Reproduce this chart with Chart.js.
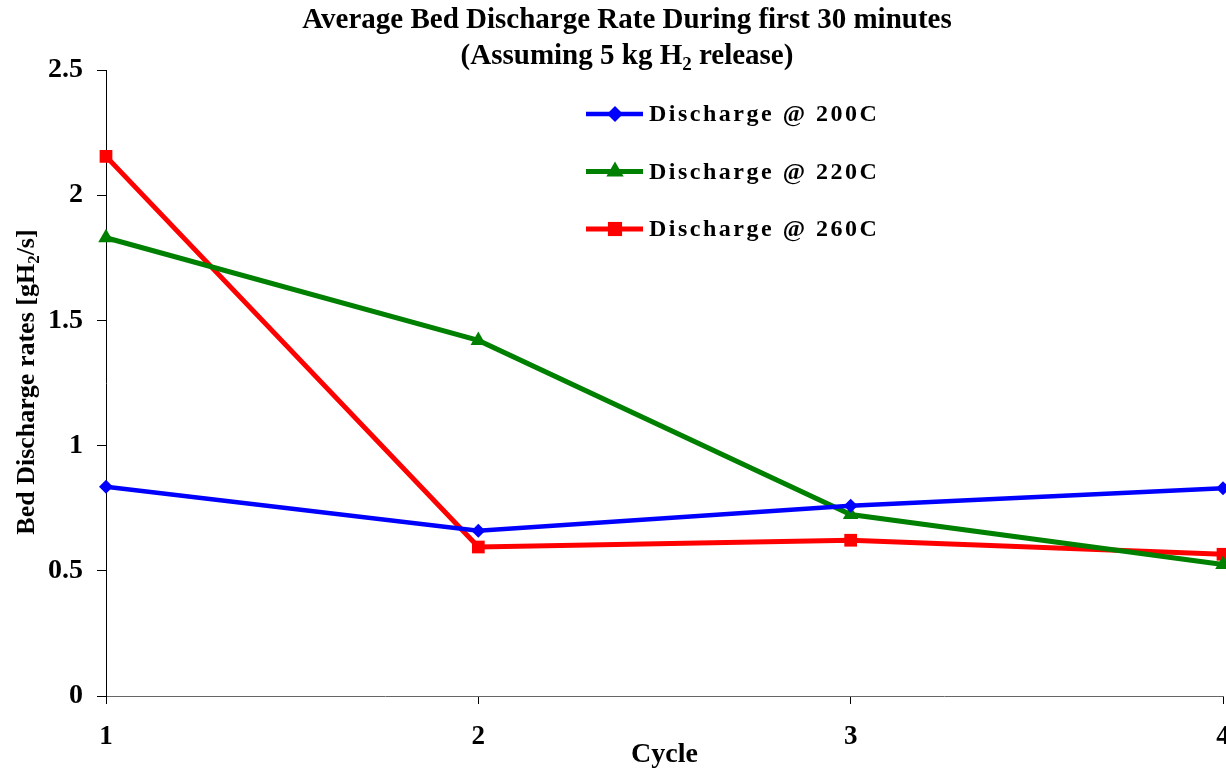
<!DOCTYPE html>
<html>
<head>
<meta charset="utf-8">
<script src="https://cdn.jsdelivr.net/npm/chart.js@4"></script>
<style>
  html, body { margin: 0; padding: 0; background: #fff; overflow: hidden; }
  #wrap { width: 1254px; height: 772px; }
</style>
</head>
<body>
<div id="wrap"><canvas id="myChart" width="1254" height="772"></canvas></div>
<script>
'use strict';

// chart data
const cycles = ['1', '2', '3', '4'];
const seriesNames = ['Discharge @ 200C', 'Discharge @ 220C', 'Discharge @ 260C'];
const discharge200 = [0.836, 0.66, 0.76, 0.83];
const discharge220 = [1.83, 1.42, 0.725, 0.525];
const discharge260 = [2.155, 0.595, 0.622, 0.566];
const yTickLabels = ['0', '0.5', '1', '1.5', '2', '2.5'];

const SERIF = '"Liberation Serif", "Times New Roman", serif';

// draws text pieces, some as subscript, centred on x
function drawRich(ctx, parts, x, y, size) {
  let total = 0;
  parts.forEach(p => {
    ctx.font = 'bold ' + (p.sub ? Math.round(size * 0.65) : size) + 'px ' + SERIF;
    p.w = ctx.measureText(p.t).width;
    total += p.w;
  });
  let cx = x - total / 2;
  ctx.textAlign = 'left';
  ctx.textBaseline = 'middle';
  parts.forEach(p => {
    ctx.font = 'bold ' + (p.sub ? Math.round(size * 0.65) : size) + 'px ' + SERIF;
    ctx.fillText(p.t, cx, p.sub ? y + size * 0.28 : y);
    cx += p.w;
  });
}

const decorations = {
  id: 'decorations',
  afterDraw(chart) {
    const ctx = chart.ctx;
    const area = chart.chartArea;
    ctx.save();
    ctx.fillStyle = '#000';

    // title, two lines
    const cx = chart.width / 2;
    drawRich(ctx, [{t: 'Average Bed Discharge Rate During first 30 minutes'}], cx, 21, 29);
    drawRich(ctx, [{t: '(Assuming 5 kg H'}, {t: '2', sub: true}, {t: ' release)'}], cx, 57, 29);

    // y axis title, rotated
    ctx.save();
    ctx.translate(27, (area.top + area.bottom) / 2 - 1);
    ctx.rotate(-Math.PI / 2);
    drawRich(ctx, [{t: 'Bed Discharge rates [gH'}, {t: '2', sub: true}, {t: '/s]'}], 0, 0, 26);
    ctx.restore();

    // legend inside the plot
    const lx = area.left + 480;
    chart.data.datasets.forEach((ds, i) => {
      const y = area.top + 44 + i * 57.5;
      ctx.strokeStyle = ds.borderColor;
      ctx.lineWidth = ds.borderWidth;
      ctx.beginPath();
      ctx.moveTo(lx, y);
      ctx.lineTo(lx + 57, y);
      ctx.stroke();
      ctx.fillStyle = ds.borderColor;
      Chart.helpers.drawPoint(ctx, {
        pointStyle: ds.pointStyle, radius: ds.pointRadius + 1, borderWidth: 0, rotation: 0
      }, lx + 29, y);
      ctx.fillStyle = '#000';
      ctx.font = 'bold 24px ' + SERIF;
      ctx.letterSpacing = '2.5px';
      ctx.textAlign = 'left';
      ctx.textBaseline = 'middle';
      ctx.fillText(ds.label, lx + 63, y + 1);
      ctx.letterSpacing = '0px';
    });
    ctx.restore();
  }
};

const ctx = document.getElementById('myChart').getContext('2d');
const chart = new Chart(ctx, {
  type: 'line',
  data: {
    labels: cycles,
    datasets: [
      {
        label: seriesNames[0], data: discharge200,
        borderColor: '#0000FF', backgroundColor: '#0000FF',
        borderWidth: 4.5, pointStyle: 'rectRot', pointRadius: 7, pointBorderWidth: 0
      },
      {
        label: seriesNames[1], data: discharge220,
        borderColor: '#008000', backgroundColor: '#008000',
        borderWidth: 5, pointStyle: 'triangle', pointRadius: 9, pointBorderWidth: 0
      },
      {
        label: seriesNames[2], data: discharge260,
        borderColor: '#FF0000', backgroundColor: '#FF0000',
        borderWidth: 5, pointStyle: 'rect', pointRadius: 9, pointBorderWidth: 0
      }
    ]
  },
  options: {
    responsive: false,
    animation: false,
    events: [],
    layout: { padding: { top: 70, right: 31, left: 0, bottom: 0 } },
    plugins: {
      legend: { display: false },
      title: { display: false },
      tooltip: { enabled: false }
    },
    elements: { line: { tension: 0 } },
    scales: {
      x: {
        type: 'category',
        offset: false,
        afterFit: scale => { scale.height = 76; },
        grid: { drawOnChartArea: false, drawTicks: true, tickLength: 8, color: '#000' },
        border: { display: true, color: '#666', width: 1 },
        ticks: {
          color: '#000', padding: 17, maxRotation: 0,
          font: { family: SERIF, size: 27, weight: 'bold' }
        },
        title: {
          display: true, text: 'Cycle', color: '#000',
          padding: { top: 0, bottom: 0 },
          font: { family: SERIF, size: 28, weight: 'bold' }
        }
      },
      y: {
        min: 0, max: 2.5,
        afterFit: scale => { scale.width = 106; },
        grid: { drawOnChartArea: false, drawTicks: true, tickLength: 9, color: '#000' },
        border: { display: true, color: '#000', width: 1 },
        ticks: {
          stepSize: 0.5, color: '#000', padding: 14,
          font: { family: SERIF, size: 28, weight: 'bold' },
          callback: (v, i) => yTickLabels[i]
        }
      }
    }
  },
  plugins: [decorations]
});
</script>
</body>
</html>
